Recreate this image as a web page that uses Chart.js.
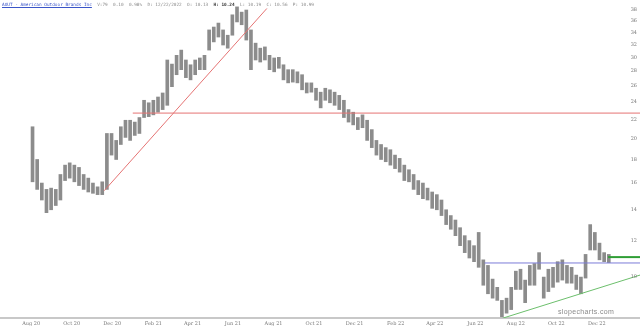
<!DOCTYPE html>
<html>
<head>
<meta charset="utf-8">
<script src="https://cdn.jsdelivr.net/npm/chart.js@4.4.0/dist/chart.umd.min.js"></script>
<style>
  html, body { margin: 0; padding: 0; background: #fff; }
  #wrap { position: relative; width: 640px; height: 330px; overflow: hidden; }
  #header { position: absolute; left: 2px; top: 2px; font: 4.4px 'DejaVu Sans Mono', monospace; color: #8a8a8a; white-space: pre; }
  #header .sym { color: #3a55c8; text-decoration: underline; }
  #header b { color: #333; }
  #mark { position: absolute; left: 558px; top: 308px; font: 7px 'Liberation Sans', sans-serif; color: #8a8a8a; letter-spacing: 0.35px; }
</style>
</head>
<body>
<div id="wrap">
  <canvas id="chart" width="640" height="330"></canvas>
  <div id="header"><span class="sym">AOUT - American Outdoor Brands Inc</span>  V:79  0.10  0.98%  D: 12/22/2022  O: 10.13  <b>H: 10.24</b>  L: 10.19  C: 10.56  P: 10.99</div>
  <div id="mark">slopecharts.com</div>
</div>
<script>
// weekly bars, first week starts on this Monday
const firstWeek = '2020-08-03';
const weekHigh = [
  21.2, 18.0, 16.0, 15.5, 15.6, 15.5, 16.7, 17.5, 17.7, 17.5,
  17.3, 16.7, 16.4, 16.0, 15.7, 16.1, 20.5, 20.5, 19.8, 21.2,
  21.9, 21.9, 21.7, 22.2, 24.2, 23.9, 24.2, 24.6, 25.1, 29.6,
  29.0, 30.3, 31.1, 29.6, 28.9, 29.6, 29.9, 30.3, 34.4, 34.9,
  35.6, 34.4, 33.5, 37.1, 38.6, 37.6, 38.0, 34.4, 32.2, 31.4,
  31.6, 30.3, 29.9, 30.0, 28.9, 28.2, 28.2, 27.9, 27.5, 26.4,
  26.4, 25.7, 25.2, 25.7, 25.5, 25.2, 24.8, 24.2, 23.1, 22.8,
  22.2, 22.5, 21.9, 20.9, 19.8, 19.4, 19.1, 18.9, 18.4, 18.1,
  17.5, 17.1, 16.7, 16.2, 16.0, 15.6, 15.3, 15.1, 14.7, 14.0,
  13.6, 13.3, 12.8, 12.3, 12.0, 11.7, 12.5, 10.9, 10.6, 9.9,
  9.5, 8.9, 9.0, 9.5, 10.3, 10.4, 9.85, 10.6, 10.7, 11.3,
  10.0, 10.4, 10.5, 10.8, 10.9, 10.6, 10.5, 10.1, 10.0, 11.2,
  13.0, 12.5, 11.85, 11.3, 11.2
];
const weekLow = [
  16.1, 15.5, 14.7, 13.8, 14.0, 14.3, 14.7, 16.2, 16.4, 16.1,
  15.8, 15.5, 15.3, 15.2, 15.1, 15.1, 15.5, 18.4, 18.0, 19.4,
  20.1, 19.8, 20.3, 20.5, 22.2, 22.3, 22.5, 22.8, 23.1, 23.6,
  25.9, 27.5, 28.2, 27.1, 26.8, 27.5, 28.2, 28.2, 31.1, 32.4,
  33.2, 31.9, 31.4, 33.5, 35.8, 35.3, 32.7, 28.2, 29.6, 29.3,
  29.6, 28.2, 27.9, 28.4, 26.8, 26.4, 26.5, 26.4, 25.5, 25.1,
  25.2, 24.2, 23.3, 24.2, 23.9, 23.6, 23.1, 22.2, 21.7, 21.4,
  20.9, 21.1, 19.8, 19.1, 18.4, 18.0, 17.8, 17.5, 17.2, 16.9,
  16.2, 16.1, 15.5, 15.1, 14.8, 14.7, 14.1, 14.0, 13.6, 13.0,
  12.7, 12.3, 11.7, 11.3, 11.0, 10.8, 10.5, 9.6, 9.2, 9.0,
  8.9, 8.2, 8.35, 8.5, 9.4, 9.4, 8.8, 9.6, 9.6, 10.4,
  9.0, 9.3, 9.5, 9.75, 9.85, 9.7, 9.7, 9.4, 9.2, 9.95,
  11.45, 11.45, 10.9, 10.8, 10.75
];

const priceTicks = [10, 12, 14, 16, 18, 20, 22, 24, 26, 28, 30, 32, 34, 36, 38];
const monthLabels = ['Aug 20', 'Oct 20', 'Dec 20', 'Feb 21', 'Apr 21', 'Jun 21', 'Aug 21', 'Oct 21',
  'Dec 21', 'Feb 22', 'Apr 22', 'Jun 22', 'Aug 22', 'Oct 22', 'Dec 22'];
const monthDates = ['2020-08-01', '2020-10-01', '2020-12-01', '2021-02-01', '2021-04-01', '2021-06-01',
  '2021-08-01', '2021-10-01', '2021-12-01', '2022-02-01', '2022-04-01', '2022-06-01', '2022-08-01',
  '2022-10-01', '2022-12-01'];

// drawn trend lines: [date, price] pairs
const redTrend = [['2020-11-19', 15.4], ['2021-07-22', 38.3]];
const redLevel = [['2021-01-01', 22.7], ['2023-02-04', 22.7]];
const blueLevel = [['2022-06-15', 10.73], ['2023-02-04', 10.73]];
const greenLevel = [['2022-12-18', 11.05], ['2023-02-04', 11.05]];
const greenTrend = [['2022-07-12', 8.14], ['2023-02-04', 10.1]];

function dayOf(s) {
  const p = s.split('-').map(Number);
  return Date.UTC(p[0], p[1] - 1, p[2]) / 86400000;
}

const start = dayOf(firstWeek);
const bars = weekHigh.map((h, i) => ({ x: start + i * 7, y: [weekLow[i], h] }));
const lineSet = (pts, color, width) => ({
  type: 'line',
  data: pts.map(p => ({ x: dayOf(p[0]), y: p[1] })),
  borderColor: color,
  borderWidth: width,
  pointRadius: 0,
  fill: false
});

const monthByDay = {};
monthDates.forEach((d, i) => { monthByDay[dayOf(d)] = monthLabels[i]; });

// price labels drawn inside the plot, right edge
const priceLabels = {
  id: 'priceLabels',
  afterDraw(chart) {
    const ctx = chart.ctx;
    const y = chart.scales.y;
    ctx.save();
    ctx.font = '5px "DejaVu Serif"';
    ctx.fillStyle = '#777';
    ctx.textAlign = 'right';
    ctx.textBaseline = 'middle';
    priceTicks.forEach(v => ctx.fillText(String(v), chart.chartArea.right - 3, y.getPixelForValue(v)));
    ctx.restore();
  }
};

new Chart(document.getElementById('chart'), {
  type: 'bar',
  data: {
    datasets: [
      lineSet(redTrend, '#e57373', 1),
      lineSet(redLevel, '#e57373', 1),
      lineSet(blueLevel, '#7b7bd8', 1),
      lineSet(greenTrend, '#6cbf6c', 1),
      lineSet(greenLevel, '#2f9e35', 2),
      {
        data: bars,
        backgroundColor: '#8c8c8c',
        barThickness: 3,
        borderWidth: 0
      }
    ]
  },
  plugins: [priceLabels],
  options: {
    responsive: false,
    animation: false,
    devicePixelRatio: 1,
    layout: { padding: 0 },
    plugins: { legend: { display: false }, tooltip: { enabled: false } },
    scales: {
      x: {
        type: 'linear',
        offset: false,
        min: dayOf('2020-06-15'),
        max: dayOf('2023-02-04'),
        grid: { display: false, drawTicks: false },
        border: { display: true, color: '#c8c8c8', width: 2 },
        afterBuildTicks: scale => { scale.ticks = monthDates.map(d => ({ value: dayOf(d) })); },
        ticks: {
          autoSkip: false,
          maxRotation: 0,
          padding: 3,
          color: '#777',
          font: { family: 'DejaVu Serif', size: 5 },
          callback: v => monthByDay[v] || ''
        }
      },
      y: {
        type: 'logarithmic',
        position: 'right',
        min: 8.15,
        max: 39.95,
        grid: { display: false, drawTicks: false },
        border: { display: false },
        ticks: { display: false }
      }
    }
  }
});
</script>
</body>
</html>
